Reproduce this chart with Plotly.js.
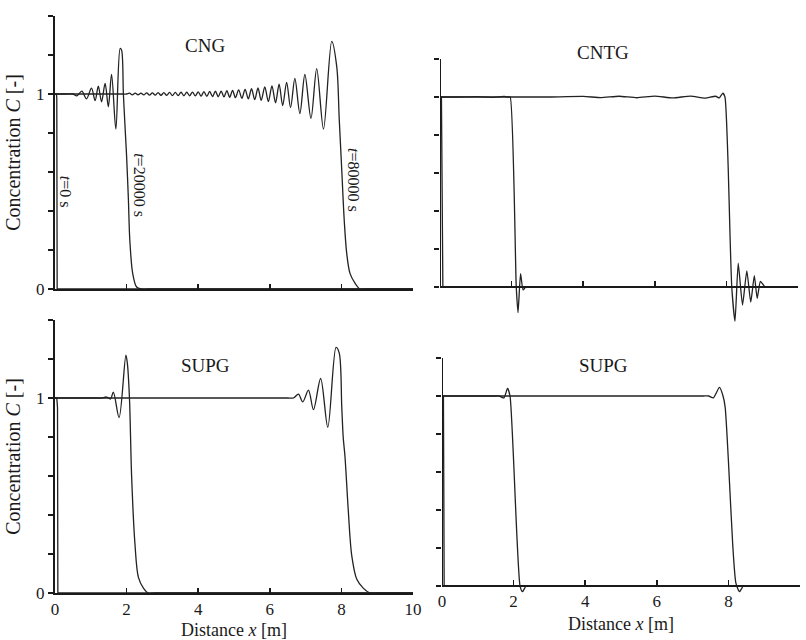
<!DOCTYPE html>
<html>
<head>
<meta charset="utf-8">
<script src="https://cdn.plot.ly/plotly-3.0.1.min.js"></script>
<style>html,body{margin:0;padding:0;background:#fff;}#chart{width:806px;height:640px;}</style>
</head>
<body>
<div id="chart"></div>
<script>
// ---------- Data ----------
var panelTitles = ["CNG", "CNTG", "SUPG", "SUPG"];
var timeLabels = ["<i>t</i>=0 s", "<i>t</i>=20000 s", "<i>t</i>=80000 s"];
var xTicks = [0, 2, 4, 6, 8, 10];

// Panel 1: CNG
var cngT0x = [0, 0.04, 0.05, 0.06, 0.3, 10];
var cngT0y = [1, 1, 0.98, 0, 0, 0];
var cngT20x = [0, 0.3, 0.5, 0.61, 0.75, 0.88, 1.02, 1.12, 1.21, 1.30, 1.40, 1.49, 1.58, 1.70, 1.82, 1.86, 1.91, 1.96, 2.0, 2.05, 2.09, 2.17, 2.28, 2.4, 2.6, 3.0, 4.0, 10];
var cngT20y = [1, 1.0, 1.0, 0.99, 1.015, 0.975, 1.03, 0.966, 1.04, 0.96, 1.054, 0.935, 1.10, 0.82, 1.234, 1.225, 1.0, 0.82, 0.68, 0.46, 0.25, 0.08, 0.01, 0, 0, 0, 0, 0];
var cngT80x = [0, 1.0, 1.9, 2.0, 2.08, 2.16, 2.24, 2.32, 2.40, 2.48, 2.56, 2.64, 2.72, 2.80, 2.88, 2.96, 3.04, 3.12, 3.20, 3.28, 3.36, 3.44, 3.52, 3.60, 3.68, 3.76, 3.84, 3.92, 4.00, 4.08, 4.16, 4.24, 4.32, 4.40, 4.48, 4.56, 4.64, 4.72, 4.80, 4.88, 4.96, 5.04, 5.13, 5.22, 5.31, 5.40, 5.49, 5.58, 5.67, 5.76, 5.86, 5.96, 6.06, 6.16, 6.26, 6.36, 6.47, 6.58, 6.70, 6.84, 6.98, 7.15, 7.31, 7.50, 7.73, 7.87, 7.94, 8.01, 8.08, 8.15, 8.24, 8.38, 8.52, 8.7, 9.0, 10];
var cngT80y = [1, 1.0, 1.0, 1.0, 1.004, 0.996, 1.005, 0.995, 1.005, 0.995, 1.006, 0.994, 1.006, 0.994, 1.007, 0.993, 1.007, 0.993, 1.008, 0.992, 1.008, 0.992, 1.009, 0.991, 1.009, 0.991, 1.01, 0.99, 1.011, 0.989, 1.012, 0.988, 1.013, 0.987, 1.014, 0.986, 1.015, 0.985, 1.017, 0.983, 1.019, 0.981, 1.021, 0.978, 1.024, 0.975, 1.027, 0.971, 1.031, 0.967, 1.036, 0.961, 1.042, 0.955, 1.05, 0.94, 1.06, 0.93, 1.08, 0.90, 1.10, 0.875, 1.13, 0.82, 1.27, 1.14, 0.87, 0.61, 0.35, 0.18, 0.08, 0.03, 0, 0, 0, 0];

// Panel 2: CNTG
var cntgT0x = [0, 0.04, 0.08, 0.3, 10];
var cntgT0y = [1, 1, 0, 0, 0];
var cntgT20x = [0, 0.5, 1.0, 1.5, 1.8, 1.9, 1.96, 2.13, 2.18, 2.25, 2.32, 2.4, 2.6, 3.0, 4.0, 6.0, 10];
var cntgT20y = [1, 1.0, 1.002, 0.998, 1.003, 1.0, 1.0, 0, -0.135, 0.07, -0.015, 0, 0, 0, 0, 0, 0];
var cntgT80x = [0, 1.0, 2.0, 3.0, 4.0, 4.5, 5.0, 5.5, 6.0, 6.5, 7.0, 7.4, 7.7, 7.8, 7.9, 7.96, 8.05, 8.10, 8.15, 8.24, 8.33, 8.45, 8.57, 8.68, 8.78, 8.86, 8.95, 9.08, 9.3, 9.6, 10];
var cntgT80y = [1, 1.0, 1.0, 1.0, 1.003, 0.997, 1.004, 0.996, 1.005, 0.995, 1.005, 0.994, 1.004, 0.995, 1.02, 1.0, 0.63, 0.28, 0, -0.18, 0.125, -0.095, 0.085, -0.08, 0.06, -0.06, 0.03, 0, 0, 0, 0];

// Panel 3: SUPG (left)
var supgAT0x = [0, 0.05, 0.07, 0.08, 0.3, 10];
var supgAT0y = [1, 1, 0.95, 0, 0, 0];
var supgAT20x = [0, 0.5, 1.0, 1.2, 1.3, 1.44, 1.55, 1.63, 1.79, 1.98, 2.02, 2.08, 2.14, 2.23, 2.33, 2.47, 2.6, 2.8, 3.2, 4.5, 10];
var supgAT20y = [1, 1.0, 1.0, 1.0, 1.0, 1.005, 0.995, 1.03, 0.90, 1.22, 1.18, 1.0, 0.60, 0.26, 0.08, 0.025, 0, 0, 0, 0, 0];
var supgAT80x = [0, 2.0, 4.0, 5.5, 6.2, 6.5, 6.66, 6.80, 6.92, 7.08, 7.22, 7.42, 7.62, 7.85, 7.94, 8.01, 8.05, 8.10, 8.19, 8.29, 8.43, 8.61, 8.8, 9.0, 9.4, 10];
var supgAT80y = [1, 1.0, 1.0, 1.0, 1.0, 1.0, 1.0, 1.02, 0.98, 1.04, 0.94, 1.10, 0.85, 1.26, 1.23, 0.955, 0.80, 0.70, 0.43, 0.19, 0.07, 0.025, 0, 0, 0, 0];

// Panel 4: SUPG (right)
var supgBT0x = [0, 0.04, 0.06, 0.3, 10];
var supgBT0y = [1, 1, 0, 0, 0];
var supgBT20x = [0, 0.5, 1.0, 1.4, 1.5, 1.6, 1.73, 1.83, 1.9, 2.18, 2.25, 2.35, 2.5, 2.8, 4.0, 6.0, 10];
var supgBT20y = [1, 1.0, 1.0, 1.0, 1.0, 1.0, 0.99, 1.04, 1.0, 0, -0.03, 0, 0, 0, 0, 0, 0];
var supgBT80x = [0, 2.0, 4.0, 6.0, 7.0, 7.3, 7.45, 7.58, 7.75, 7.85, 7.91, 8.0, 8.12, 8.21, 8.31, 8.42, 8.6, 9.0, 10];
var supgBT80y = [1, 1.0, 1.0, 1.0, 1.0, 1.0, 1.0, 0.99, 1.045, 1.0, 0.94, 0.66, 0.22, 0.015, -0.03, 0, 0, 0, 0];

// ---------- Styling ----------
var FONT = '"Liberation Serif", "Times New Roman", serif';
var INK = '#1a1a1a';

function tr(x, y, xa, ya, smooth) {
  var ln = {color: '#222', width: 1.3};
  if (smooth) { ln.shape = 'spline'; ln.smoothing = smooth; }
  return {x: x, y: y, xaxis: xa, yaxis: ya, type: 'scatter', mode: 'lines',
          line: ln, showlegend: false, hoverinfo: 'skip'};
}

var data = [
  tr(cngT0x, cngT0y, 'x', 'y'), tr(cngT20x, cngT20y, 'x', 'y', 0.9), tr(cngT80x, cngT80y, 'x', 'y', 0.9),
  tr(cntgT0x, cntgT0y, 'x2', 'y2'), tr(cntgT20x, cntgT20y, 'x2', 'y2', 0.5), tr(cntgT80x, cntgT80y, 'x2', 'y2', 0.5),
  tr(supgAT0x, supgAT0y, 'x3', 'y3'), tr(supgAT20x, supgAT20y, 'x3', 'y3', 0.9), tr(supgAT80x, supgAT80y, 'x3', 'y3', 0.9),
  tr(supgBT0x, supgBT0y, 'x4', 'y4'), tr(supgBT20x, supgBT20y, 'x4', 'y4', 0.6), tr(supgBT80x, supgBT80y, 'x4', 'y4', 0.6)
];

var W = 806, H = 640;
function px(v) { return v / W; }
function py(v) { return 1 - v / H; }

var yTicksL = [0, 0.2, 0.4, 0.6, 0.8, 1.0, 1.2, 1.4];
var yTextL = ['0', '', '', '', '', '1', '', ''];
var yTicksR = [0, 0.2, 0.4, 0.6, 0.8, 1.0, 1.2];

function xax(domain, extra) {
  var a = {domain: domain, range: [0, 10], showgrid: false, zeroline: false,
           showline: true, linecolor: INK, linewidth: 2,
           ticks: 'inside', ticklen: 5, tickwidth: 1.5, tickcolor: INK,
           tickvals: xTicks, ticktext: xTicks.map(String),
           tickfont: {family: FONT, size: 17, color: INK}, fixedrange: true};
  for (var k in extra) a[k] = extra[k];
  return a;
}
function yax(domain, range, extra) {
  var a = {domain: domain, range: range, showgrid: false, zeroline: false,
           showline: true, linecolor: INK, linewidth: 2,
           ticks: 'outside', ticklen: 5, tickwidth: 1.5, tickcolor: INK,
           tickfont: {family: FONT, size: 17, color: INK}, fixedrange: true};
  for (var k in extra) a[k] = extra[k];
  return a;
}

var yTitle = {text: 'Concentration <i>C</i> [-]', font: {family: FONT, size: 20, color: INK}, standoff: 10};
var xTitle = {text: 'Distance <i>x</i> [m]', font: {family: FONT, size: 18, color: INK}, standoff: 6};
var titleFont = {family: FONT, size: 19, color: INK};
var tlabFont = {family: FONT, size: 16, color: INK};

var layout = {
  width: W, height: H,
  margin: {l: 0, r: 0, t: 0, b: 0},
  paper_bgcolor: '#fff', plot_bgcolor: 'rgba(0,0,0,0)',
  font: {family: FONT, color: INK},
  xaxis: xax([px(55), px(413)], {anchor: 'y', showticklabels: false}),
  yaxis: yax([py(289), py(16)], [0, 1.4], {anchor: 'x', tickvals: yTicksL, ticktext: yTextL, title: yTitle}),
  xaxis2: xax([px(440), px(798)], {anchor: 'free', position: py(287), showticklabels: false}),
  yaxis2: yax([py(325), py(59)], [-0.2, 1.2], {anchor: 'x2', showline: false, tickvals: yTicksR, showticklabels: false}),
  xaxis3: xax([px(55), px(413)], {anchor: 'y3', title: xTitle}),
  yaxis3: yax([py(593), py(320)], [0, 1.4], {anchor: 'x3', tickvals: yTicksL, ticktext: yTextL, title: yTitle}),
  xaxis4: xax([px(442), px(800)], {anchor: 'free', position: py(586), title: xTitle}),
  yaxis4: yax([py(605), py(358)], [-0.1, 1.2], {anchor: 'x4', showline: false, tickvals: yTicksR, showticklabels: false}),
  shapes: [
    {type: 'line', xref: 'x2', yref: 'y2', x0: 0, x1: 0, y0: 0, y1: 1.2, line: {color: INK, width: 2}},
    {type: 'line', xref: 'x4', yref: 'y4', x0: 0, x1: 0, y0: 0, y1: 1.2, line: {color: INK, width: 2}}
  ],
  annotations: [
    {text: panelTitles[0], xref: 'paper', yref: 'paper', x: px(205), y: py(45), xanchor: 'center', yanchor: 'middle', showarrow: false, font: titleFont},
    {text: panelTitles[1], xref: 'paper', yref: 'paper', x: px(603), y: py(52), xanchor: 'center', yanchor: 'middle', showarrow: false, font: titleFont},
    {text: panelTitles[2], xref: 'paper', yref: 'paper', x: px(205), y: py(365), xanchor: 'center', yanchor: 'middle', showarrow: false, font: titleFont},
    {text: panelTitles[3], xref: 'paper', yref: 'paper', x: px(603), y: py(365), xanchor: 'center', yanchor: 'middle', showarrow: false, font: titleFont},
    {text: timeLabels[0], xref: 'x', yref: 'y', x: 0.30, y: 0.50, textangle: 90, showarrow: false, font: tlabFont},
    {text: timeLabels[1], xref: 'x', yref: 'y', x: 2.36, y: 0.53, textangle: 90, showarrow: false, font: tlabFont},
    {text: timeLabels[2], xref: 'x', yref: 'y', x: 8.32, y: 0.56, textangle: 90, showarrow: false, font: tlabFont}
  ]
};

Plotly.newPlot('chart', data, layout, {staticPlot: true, displayModeBar: false});
</script>
</body>
</html>
